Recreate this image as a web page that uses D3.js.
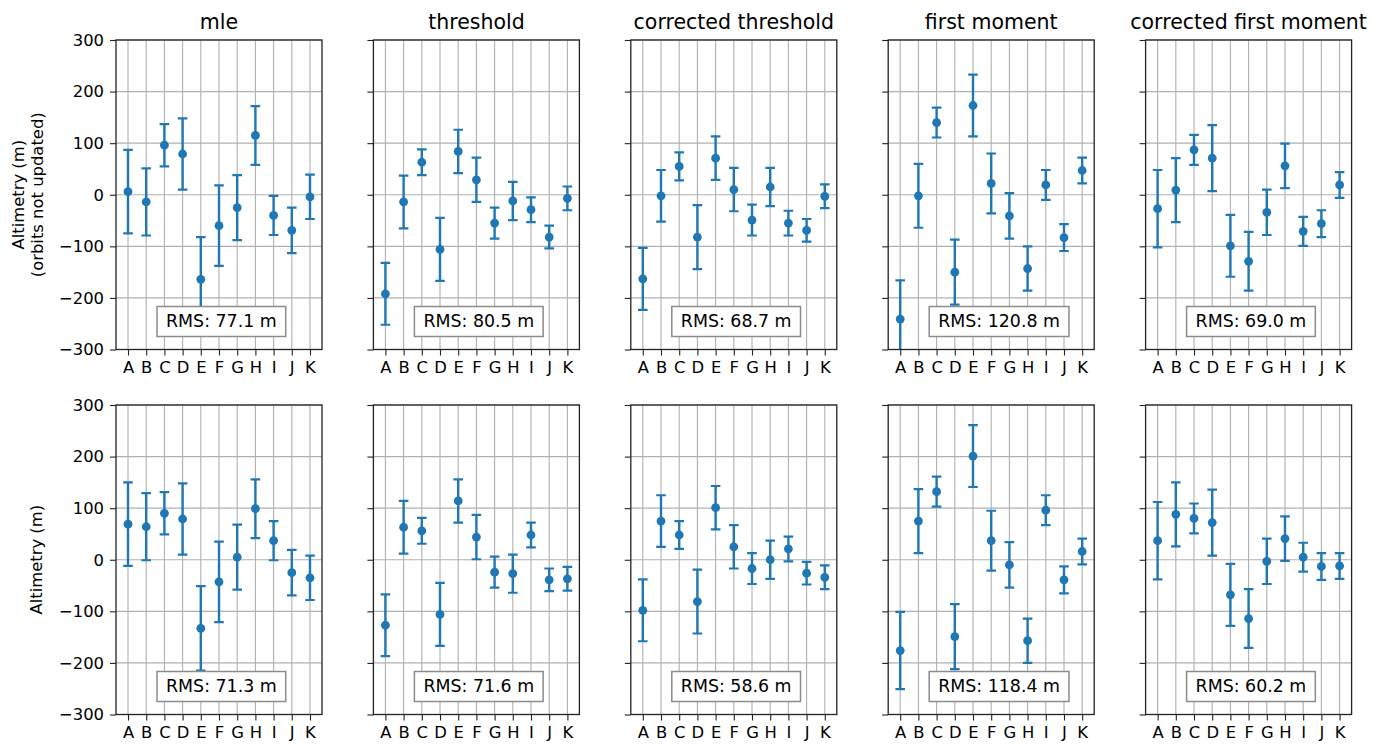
<!DOCTYPE html>
<html>
<head>
<meta charset="utf-8">
<script src="https://d3js.org/d3.v7.min.js"></script>
<style>
  body { margin: 0; background: #fff; }
  svg text { font-family: "DejaVu Sans", sans-serif; fill: #000; }
</style>
</head>
<body>
<svg id="chart" width="1388" height="744"></svg>
<script>
// --- data ---
const categories = ["A", "B", "C", "D", "E", "F", "G", "H", "I", "J", "K"];
const methods = ["mle", "threshold", "corrected threshold", "first moment", "corrected first moment"];
const yTicks = [-300, -200, -100, 0, 100, 200, 300];

// error bar half-widths, same for both rows
const errMle = [81, 65, 41, 69, 82, 78, 63, 57, 38, 44, 43];
const errThreshold = [60, 51, 25, 61, 42, 43, 30, 37, 24, 22, 23];
const errCorrThreshold = [60, 50, 27, 62, 42, 42, 30, 37, 24, 22, 23];
const errFirstMoment = [75, 62, 29, 63, 60, 58, 44, 43, 29, 26, 25];
const errCorrFirstMoment = [75, 62, 29, 64, 60, 57, 44, 43, 28, 26, 25];

// top row: orbits not updated
const topMle = [6, -14, 96, 79, -164, -60, -25, 115, -40, -69, -4];
const topThreshold = [-192, -14, 63, -106, 84, 29, -55, -12, -29, -82, -7];
const topCorrThreshold = [-163, -2, 55, -82, 71, 10, -49, 15, -55, -69, -3];
const topFirstMoment = [-241, -2, 140, -150, 173, 22, -41, -143, 19, -83, 47];
const topCorrFirstMoment = [-27, 9, 87, 71, -99, -129, -34, 56, -71, -56, 19];

// bottom row
const bottomMle = [69, 64, 90, 79, -133, -43, 5, 99, 37, -25, -35];
const bottomThreshold = [-127, 63, 56, -106, 114, 44, -24, -27, 48, -39, -37];
const bottomCorrThreshold = [-98, 75, 48, -81, 101, 25, -17, 0, 21, -26, -34];
const bottomFirstMoment = [-176, 75, 132, -149, 201, 37, -10, -157, 96, -39, 16];
const bottomCorrFirstMoment = [37, 88, 80, 72, -68, -114, -3, 41, 5, -13, -12];

const rmsTop = ["77.1", "80.5", "68.7", "120.8", "69.0"];
const rmsBottom = ["71.3", "71.6", "58.6", "118.4", "60.2"];

const errors = [errMle, errThreshold, errCorrThreshold, errFirstMoment, errCorrFirstMoment];
const rows = [
  { means: [topMle, topThreshold, topCorrThreshold, topFirstMoment, topCorrFirstMoment], rms: rmsTop,
    label: ["Altimetry (m)", "(orbits not updated)"] },
  { means: [bottomMle, bottomThreshold, bottomCorrThreshold, bottomFirstMoment, bottomCorrFirstMoment], rms: rmsBottom,
    label: ["Altimetry (m)"] }
];

// --- layout ---
const panelLeft = 116, panelStep = 257.4, panelW = 206;
const rowTops = [40, 405], panelH = 309.5;
const blue = "#1f77b4";

const svg = d3.select("#chart");
const defs = svg.append("defs");

rows.forEach((row, r) => {
  const top = rowTops[r];
  const y = d3.scaleLinear().domain([-300, 300]).range([top + panelH, top]);

  // y label
  const midY = top + panelH / 2;
  const lab = svg.append("text")
    .attr("transform", `translate(${row.label.length > 1 ? 24 : 42},${midY}) rotate(-90)`)
    .attr("text-anchor", "middle")
    .style("font-size", "16.4px");
  row.label.forEach((t, i) => {
    lab.append("tspan").attr("x", 0).attr("dy", i === 0 ? 0 : 18.5).text(t);
  });

  methods.forEach((m, p) => {
    const left = panelLeft + p * panelStep;
    const x = d3.scaleLinear().domain([-0.66, 10.66]).range([left, left + panelW]);
    const g = svg.append("g");
    const clipId = `clip-${r}-${p}`;
    defs.append("clipPath").attr("id", clipId)
      .append("rect").attr("x", left).attr("y", top).attr("width", panelW).attr("height", panelH);

    // grid
    g.append("g").selectAll("line.h").data(yTicks).join("line")
      .attr("x1", left).attr("x2", left + panelW)
      .attr("y1", d => y(d)).attr("y2", d => y(d))
      .attr("stroke", "#b0b0b0").attr("stroke-width", 1.1);
    g.append("g").selectAll("line.v").data(categories).join("line")
      .attr("x1", (d, i) => x(i)).attr("x2", (d, i) => x(i))
      .attr("y1", top).attr("y2", top + panelH)
      .attr("stroke", "#b0b0b0").attr("stroke-width", 1.1);

    // axes
    const yAxis = d3.axisLeft(y).tickValues(yTicks).tickSize(6).tickPadding(6)
      .tickFormat(p === 0 ? (d => d < 0 ? "\u2212" + Math.abs(d) : d) : "");
    const ya = g.append("g").attr("transform", `translate(${left},0)`).call(yAxis);
    const xAxis = d3.axisBottom(x).tickValues(d3.range(categories.length)).tickSize(6).tickPadding(6)
      .tickFormat(i => categories[i]);
    const xa = g.append("g").attr("transform", `translate(0,${top + panelH})`).call(xAxis);
    [ya, xa].forEach(a => {
      a.select(".domain").remove();
      a.selectAll(".tick line").attr("stroke", "#222").attr("stroke-width", 1.1);
      a.selectAll(".tick text").style("font-size", "16.4px").attr("fill", "#000");
    });
    ya.selectAll(".tick text").attr("x", -12);

    // error bars
    const means = row.means[p], err = errors[p];
    const data = means.map((v, i) => ({ i, v, e: err[i] }));
    const eb = g.append("g").attr("clip-path", `url(#${clipId})`);
    eb.selectAll("line.bar").data(data).join("line")
      .attr("x1", d => x(d.i)).attr("x2", d => x(d.i))
      .attr("y1", d => y(d.v + d.e)).attr("y2", d => y(d.v - d.e))
      .attr("stroke", blue).attr("stroke-width", 2.4);
    ["top", "bot"].forEach(side => {
      eb.selectAll("line.cap-" + side).data(data).join("line")
        .attr("x1", d => x(d.i) - 4.8).attr("x2", d => x(d.i) + 4.8)
        .attr("y1", d => y(side === "top" ? d.v + d.e : d.v - d.e))
        .attr("y2", d => y(side === "top" ? d.v + d.e : d.v - d.e))
        .attr("stroke", blue).attr("stroke-width", 2.2);
    });
    eb.selectAll("circle").data(data).join("circle")
      .attr("cx", d => x(d.i)).attr("cy", d => y(d.v)).attr("r", 4.4)
      .attr("fill", blue);

    // frame
    g.append("rect").attr("x", left).attr("y", top).attr("width", panelW).attr("height", panelH)
      .attr("fill", "none").attr("stroke", "#222").attr("stroke-width", 1.3);

    // title
    if (r === 0) {
      g.append("text").attr("x", left + panelW / 2).attr("y", 29)
        .attr("text-anchor", "middle").style("font-size", "20.5px").text(m);
    }

    // RMS box
    const bx = left + 41, by = top + panelH - 43;
    const box = g.append("rect").attr("x", bx).attr("y", by).attr("height", 30)
      .attr("fill", "#fff").attr("stroke", "#8c8c8c").attr("stroke-width", 1.5);
    const t = g.append("text").attr("x", bx + 9).attr("y", by + 20.5)
      .style("font-size", "17.4px").text(`RMS: ${row.rms[p]} m`);
    box.attr("width", t.node().getComputedTextLength() + 18);
  });
});
</script>
</body>
</html>
